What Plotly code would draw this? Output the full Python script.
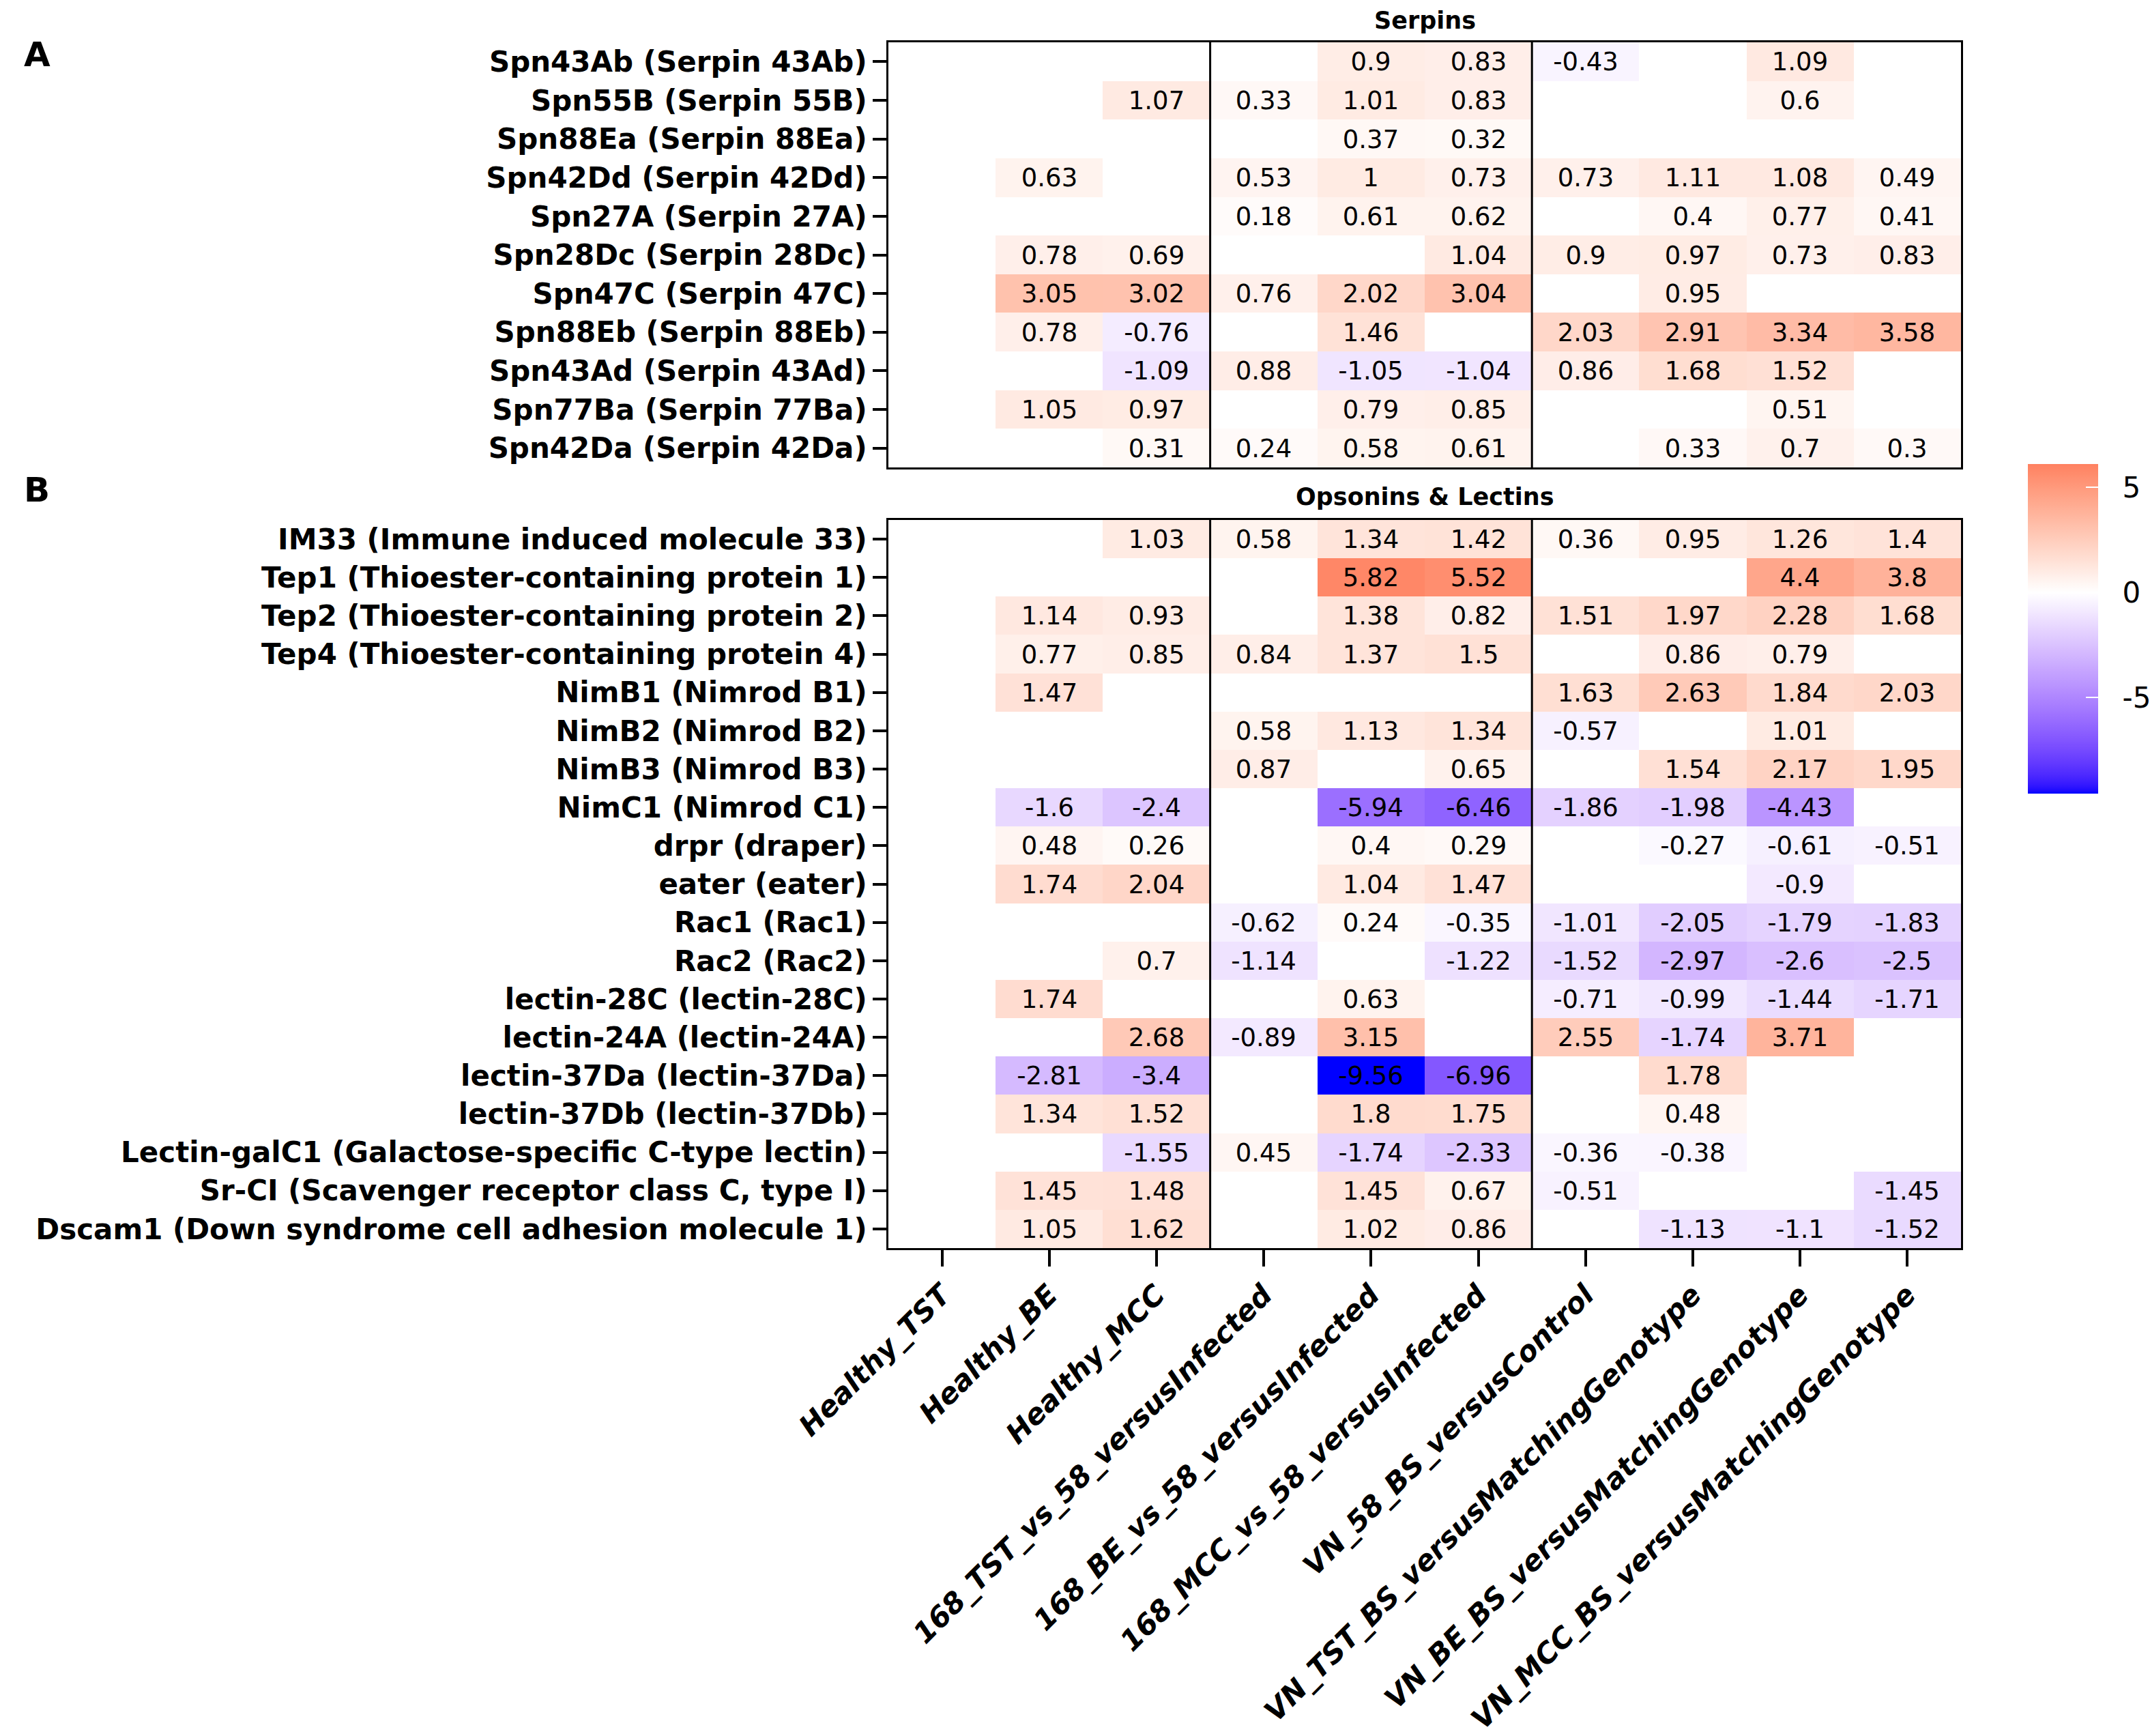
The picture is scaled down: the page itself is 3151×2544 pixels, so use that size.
import plotly.graph_objects as go
import numpy as np

columns = ["Healthy_TST", "Healthy_BE", "Healthy_MCC",
           "168_TST_vs_58_versusInfected", "168_BE_vs_58_versusInfected",
           "168_MCC_vs_58_versusInfected", "VN_58_BS_versusControl",
           "VN_TST_BS_versusMatchingGenotype", "VN_BE_BS_versusMatchingGenotype",
           "VN_MCC_BS_versusMatchingGenotype"]

serpin_genes = ["Spn43Ab (Serpin 43Ab)", "Spn55B (Serpin 55B)", "Spn88Ea (Serpin 88Ea)",
                "Spn42Dd (Serpin 42Dd)", "Spn27A (Serpin 27A)", "Spn28Dc (Serpin 28Dc)",
                "Spn47C (Serpin 47C)", "Spn88Eb (Serpin 88Eb)", "Spn43Ad (Serpin 43Ad)",
                "Spn77Ba (Serpin 77Ba)", "Spn42Da (Serpin 42Da)"]
N = None
serpin_values = [
    [N, N, N, N, 0.9, 0.83, -0.43, N, 1.09, N],
    [N, N, 1.07, 0.33, 1.01, 0.83, N, N, 0.6, N],
    [N, N, N, N, 0.37, 0.32, N, N, N, N],
    [N, 0.63, N, 0.53, 1, 0.73, 0.73, 1.11, 1.08, 0.49],
    [N, N, N, 0.18, 0.61, 0.62, N, 0.4, 0.77, 0.41],
    [N, 0.78, 0.69, N, N, 1.04, 0.9, 0.97, 0.73, 0.83],
    [N, 3.05, 3.02, 0.76, 2.02, 3.04, N, 0.95, N, N],
    [N, 0.78, -0.76, N, 1.46, N, 2.03, 2.91, 3.34, 3.58],
    [N, N, -1.09, 0.88, -1.05, -1.04, 0.86, 1.68, 1.52, N],
    [N, 1.05, 0.97, N, 0.79, 0.85, N, N, 0.51, N],
    [N, N, 0.31, 0.24, 0.58, 0.61, N, 0.33, 0.7, 0.3],
]

opsonin_genes = ["IM33 (Immune induced molecule 33)", "Tep1 (Thioester-containing protein 1)",
                 "Tep2 (Thioester-containing protein 2)", "Tep4 (Thioester-containing protein 4)",
                 "NimB1 (Nimrod B1)", "NimB2 (Nimrod B2)", "NimB3 (Nimrod B3)",
                 "NimC1 (Nimrod C1)", "drpr (draper)", "eater (eater)", "Rac1 (Rac1)",
                 "Rac2 (Rac2)", "lectin-28C (lectin-28C)", "lectin-24A (lectin-24A)",
                 "lectin-37Da (lectin-37Da)", "lectin-37Db (lectin-37Db)",
                 "Lectin-galC1 (Galactose-specific C-type lectin)",
                 "Sr-CI (Scavenger receptor class C, type I)",
                 "Dscam1 (Down syndrome cell adhesion molecule 1)"]
opsonin_values = [
    [N, N, 1.03, 0.58, 1.34, 1.42, 0.36, 0.95, 1.26, 1.4],
    [N, N, N, N, 5.82, 5.52, N, N, 4.4, 3.8],
    [N, 1.14, 0.93, N, 1.38, 0.82, 1.51, 1.97, 2.28, 1.68],
    [N, 0.77, 0.85, 0.84, 1.37, 1.5, N, 0.86, 0.79, N],
    [N, 1.47, N, N, N, N, 1.63, 2.63, 1.84, 2.03],
    [N, N, N, 0.58, 1.13, 1.34, -0.57, N, 1.01, N],
    [N, N, N, 0.87, N, 0.65, N, 1.54, 2.17, 1.95],
    [N, -1.6, -2.4, N, -5.94, -6.46, -1.86, -1.98, -4.43, N],
    [N, 0.48, 0.26, N, 0.4, 0.29, N, -0.27, -0.61, -0.51],
    [N, 1.74, 2.04, N, 1.04, 1.47, N, N, -0.9, N],
    [N, N, N, -0.62, 0.24, -0.35, -1.01, -2.05, -1.79, -1.83],
    [N, N, 0.7, -1.14, N, -1.22, -1.52, -2.97, -2.6, -2.5],
    [N, 1.74, N, N, 0.63, N, -0.71, -0.99, -1.44, -1.71],
    [N, N, 2.68, -0.89, 3.15, N, 2.55, -1.74, 3.71, N],
    [N, -2.81, -3.4, N, -9.56, -6.96, N, 1.78, N, N],
    [N, 1.34, 1.52, N, 1.8, 1.75, N, 0.48, N, N],
    [N, N, -1.55, 0.45, -1.74, -2.33, -0.36, -0.38, N, N],
    [N, 1.45, 1.48, N, 1.45, 0.67, -0.51, N, N, -1.45],
    [N, 1.05, 1.62, N, 1.02, 0.86, N, -1.13, -1.1, -1.52],
]

colorbar_ticks = [-5, 0, 5]
colorbar_limits = [-9.56, 6.1]   # range shown by the legend bar

# ---------- diverging colour scale (blue - white - red, Lab interpolation) ----------
def _srgb_to_lab(rgb):
    c = np.array(rgb, dtype=float) / 255.0
    c = np.where(c <= 0.04045, c / 12.92, ((c + 0.055) / 1.055) ** 2.4)
    M = np.array([[0.4124564, 0.3575761, 0.1804375],
                  [0.2126729, 0.7151522, 0.0721750],
                  [0.0193339, 0.1191920, 0.9503041]])
    xyz = M @ c / np.array([0.95047, 1.0, 1.08883])
    f = np.where(xyz > 216 / 24389, np.cbrt(xyz), (24389 / 27 * xyz + 16) / 116)
    return np.array([116 * f[1] - 16, 500 * (f[0] - f[1]), 200 * (f[1] - f[2])])


def _lab_to_srgb(lab):
    L, a, b = lab
    fy = (L + 16) / 116
    fx = fy + a / 500
    fz = fy - b / 200

    def finv(t):
        return t ** 3 if t ** 3 > 216 / 24389 else (116 * t - 16) / (24389 / 27)
    xyz = np.array([finv(fx), finv(fy), finv(fz)]) * np.array([0.95047, 1.0, 1.08883])
    Minv = np.array([[3.2404542, -1.5371385, -0.4985314],
                     [-0.9692660, 1.8760108, 0.0415560],
                     [0.0556434, -0.2040259, 1.0572252]])
    c = Minv @ xyz
    c = np.clip(c, 0, 1)
    c = np.where(c <= 0.0031308, 12.92 * c, 1.055 * c ** (1 / 2.4) - 0.055)
    c = np.clip(np.round(c * 255), 0, 255).astype(int)
    return "rgb(%d,%d,%d)" % tuple(c)


LOW, MID, HIGH = _srgb_to_lab((0, 0, 255)), _srgb_to_lab((255, 255, 255)), _srgb_to_lab((255, 0, 0))
all_vals = [v for row in serpin_values + opsonin_values for v in row if v is not None]
span = max(abs(min(all_vals)), abs(max(all_vals)))
zmin, zmax = colorbar_limits


def _color_of(v):
    p = min(max(v / (2 * span) + 0.5, 0.0), 1.0)
    if p <= 0.5:
        lab = LOW + (MID - LOW) * (p / 0.5)
    else:
        lab = MID + (HIGH - MID) * ((p - 0.5) / 0.5)
    return _lab_to_srgb(lab)


samples = sorted(set(list(np.linspace(zmin, zmax, 121)) + [0.0]))
colorscale = [[(s - zmin) / (zmax - zmin), _color_of(s)] for s in samples]
colorscale[0][0] = 0.0
colorscale[-1][0] = 1.0


def _labels(values):
    return [["" if v is None else f"{v:g}" for v in row] for row in values]


FONT = "DejaVu Sans"
cell_font = dict(family=FONT, size=37, color="black")

fig = go.Figure()
fig.add_trace(go.Heatmap(
    z=serpin_values, x=columns, y=serpin_genes, text=_labels(serpin_values),
    texttemplate="%{text}", textfont=cell_font, coloraxis="coloraxis",
    xaxis="x", yaxis="y", hoverinfo="skip", xgap=0, ygap=0))
fig.add_trace(go.Heatmap(
    z=opsonin_values, x=columns, y=opsonin_genes, text=_labels(opsonin_values),
    texttemplate="%{text}", textfont=cell_font, coloraxis="coloraxis",
    xaxis="x2", yaxis="y2", hoverinfo="skip", xgap=0, ygap=0))

W, H = 3151, 2544
x_dom = [1302 / W, 2874 / W]
top_dom = [1 - 685 / H, 1 - 62 / H]
bot_dom = [1 - 1829 / H, 1 - 762 / H]

line_common = dict(showline=True, mirror=True, linecolor="black", linewidth=3,
                   showgrid=False, zeroline=False, automargin=False)
ytick_font = dict(family=FONT, size=42, color="black", weight="bold")
NB = "\u00a0\u00a0"

fig.update_layout(
    width=W, height=H,
    template="none",
    paper_bgcolor="white", plot_bgcolor="white",
    margin=dict(l=0, r=0, t=0, b=0, autoexpand=False),
    showlegend=False,
    xaxis=dict(domain=x_dom, anchor="y", type="category", showticklabels=False,
               ticks="", **line_common),
    yaxis=dict(domain=top_dom, anchor="x", type="category", autorange="reversed",
               ticks="outside", ticklen=20, tickwidth=4, tickcolor="black",
               tickfont=ytick_font, **line_common),
    xaxis2=dict(domain=x_dom, anchor="y2", type="category", tickangle=-45,
                ticks="outside", ticklen=24, tickwidth=4, tickcolor="black",
                tickfont=dict(family=FONT, size=42, color="black", weight="bold",
                              style="italic"), **line_common),
    yaxis2=dict(domain=bot_dom, anchor="x2", type="category", autorange="reversed",
                ticks="outside", ticklen=20, tickwidth=4, tickcolor="black",
                tickfont=ytick_font, **line_common),
    coloraxis=dict(
        colorscale=colorscale, cmin=zmin, cmax=zmax,
        colorbar=dict(
            x=2972 / W, xanchor="left", y=1 - 921.5 / H, yanchor="middle",
            thickness=103, thicknessmode="pixels", len=483, lenmode="pixels",
            xpad=0, ypad=0, outlinewidth=0,
            tickvals=colorbar_ticks, ticktext=[NB + str(t) for t in colorbar_ticks],
            ticks="inside", ticklen=18, tickwidth=2, tickcolor="white",
            tickfont=dict(family=FONT, size=42, color="black")),
    ),
)

shapes = []
for xref, yref in (("x", "y domain"), ("x2", "y2 domain")):
    for b in (2.5, 5.5):
        shapes.append(dict(type="line", xref=xref, yref=yref, x0=b, x1=b, y0=0, y1=1,
                           line=dict(color="black", width=3), layer="above"))
fig.update_layout(shapes=shapes)

title_font = dict(family=FONT, size=35, color="black", weight="bold")
panel_font = dict(family=FONT, size=50, color="black", weight="bold")
annotations = [
    dict(text="Serpins", x=(x_dom[0] + x_dom[1]) / 2, y=1 - 30 / H, xref="paper", yref="paper",
         xanchor="center", yanchor="middle", showarrow=False, font=title_font),
    dict(text="Opsonins &amp; Lectins", x=(x_dom[0] + x_dom[1]) / 2, y=1 - 728 / H,
         xref="paper", yref="paper", xanchor="center", yanchor="middle",
         showarrow=False, font=title_font),
    dict(text="A", x=54 / W, y=1 - 80 / H, xref="paper", yref="paper", xanchor="center",
         yanchor="middle", showarrow=False, font=panel_font),
    dict(text="B", x=54 / W, y=1 - 718 / H, xref="paper", yref="paper", xanchor="center",
         yanchor="middle", showarrow=False, font=panel_font),
]
fig.update_layout(annotations=annotations)

fig.write_html("out.html")
